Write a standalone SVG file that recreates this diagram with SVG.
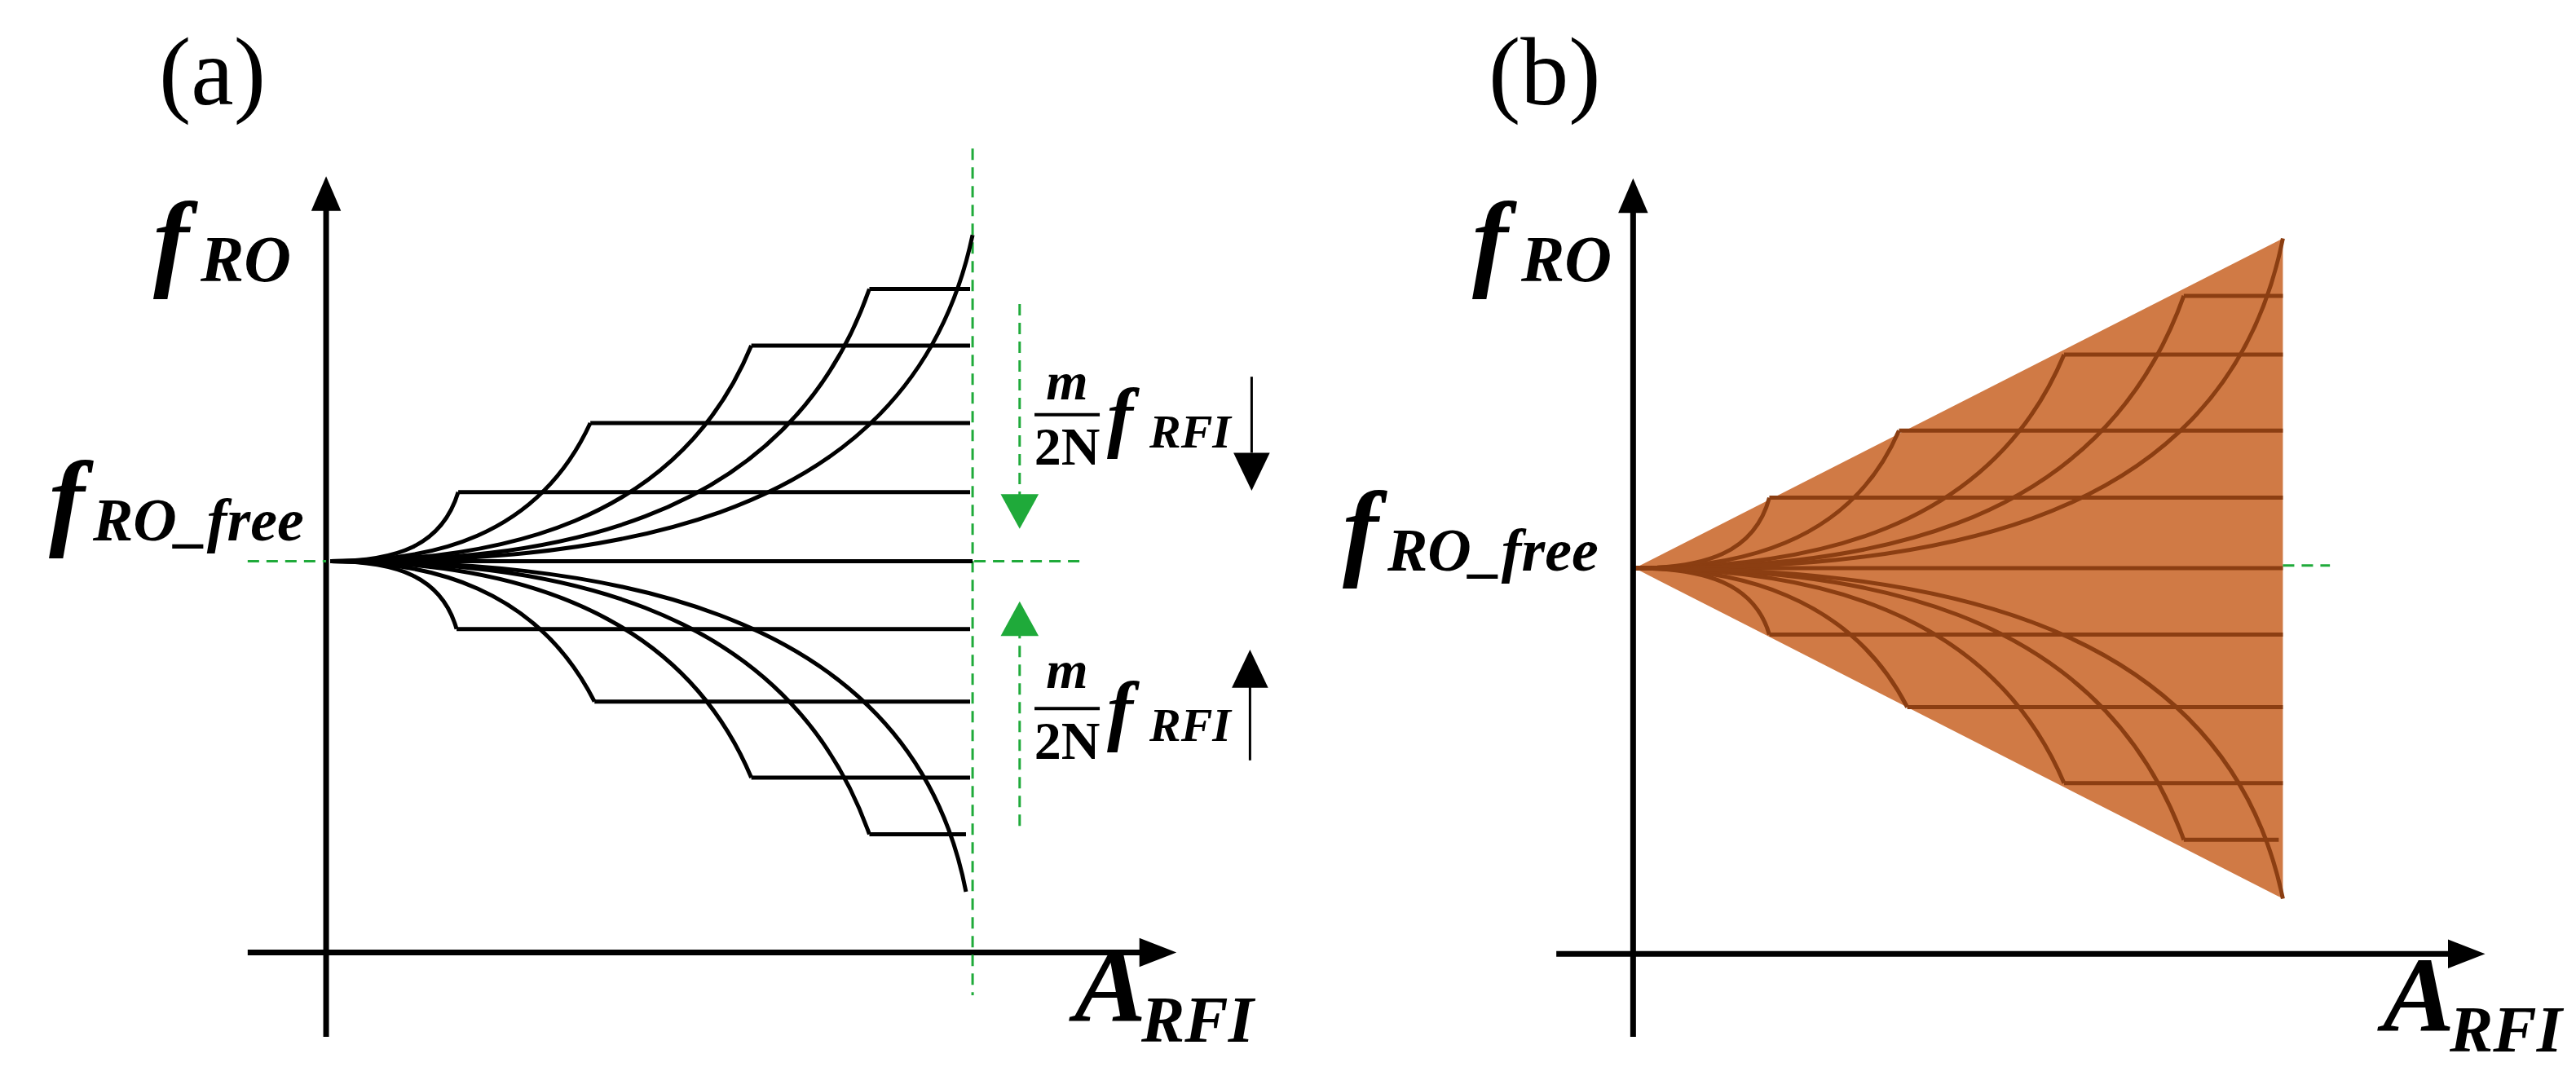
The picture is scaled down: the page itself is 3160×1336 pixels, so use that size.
<svg xmlns="http://www.w3.org/2000/svg" width="3160" height="1336" viewBox="0 0 3160 1336">
<style>
.ax{stroke:#000;stroke-width:7;fill:none}
.k{stroke:#000;stroke-width:5;fill:none}
.br{stroke:#8B3E12;stroke-width:5;fill:none}
.g{stroke:#1FAA3A;stroke-width:3;stroke-dasharray:14 9;fill:none}
line,path,polyline{vector-effect:non-scaling-stroke}
.big{font-family:"Liberation Serif",serif;font-weight:bold;font-style:italic;font-size:132px}
.sub{font-family:"Liberation Serif",serif;font-weight:bold;font-style:italic;font-size:80px}
.lab{font-family:"Liberation Serif",serif;font-size:118px}
.fr{font-family:"Liberation Serif",serif;font-weight:bold;font-style:italic;font-size:66px}
</style>
<rect width="3160" height="1336" fill="#fff"/>
<g id="panelA">
<g transform="scale(1.0128,0.848)">
<g id="axesA">
<line class="ax" x1="395" y1="1500" x2="395" y2="300"/><polygon points="377,305 413,305 395,255"/>
<line class="ax" x1="300" y1="1378" x2="1385" y2="1378"/><polygon points="1380,1357 1380,1399 1425,1378"/>
</g>
<g id="guidesA">
<line class="g" x1="1178" y1="215" x2="1178" y2="1440"/>
<line class="g" x1="300" y1="812" x2="395" y2="812"/>
<line class="g" x1="1180" y1="812" x2="1310" y2="812"/>
<line class="g" x1="1235" y1="440" x2="1235" y2="720"/><polygon points="1212,715 1258,715 1235,765" fill="#1FAA3A"/>
<line class="g" x1="1235" y1="1195" x2="1235" y2="915"/><polygon points="1212,920 1258,920 1235,870" fill="#1FAA3A"/>
</g>
<g id="curvesA">
<line class="k" x1="400" y1="812" x2="1178" y2="812"/>
<polyline class="k" points="555,712 1175,712"/><polyline class="k" points="715,612 1175,612"/><polyline class="k" points="910,500 1175,500"/><polyline class="k" points="1053,418 1175,418"/>
<polyline class="k" points="553,910 1175,910"/><polyline class="k" points="720,1015 1175,1015"/><polyline class="k" points="910,1125 1175,1125"/><polyline class="k" points="1053,1207 1170,1207"/>
<path class="k" d="M400,812 C480,812 535,790 555,712"/>
<path class="k" d="M400,812 C520,812 650,780 715,612"/>
<path class="k" d="M400,812 C600,812 820,760 910,500"/>
<path class="k" d="M400,812 C650,812 950,770 1053,418"/>
<path class="k" d="M400,812 C700,812 1100,780 1178,340"/>
<path class="k" d="M400,812 C480,812 535,834 553,910"/>
<path class="k" d="M400,812 C520,812 650,850 720,1015"/>
<path class="k" d="M400,812 C600,812 820,870 910,1125"/>
<path class="k" d="M400,812 C650,812 950,860 1053,1207"/>
<path class="k" d="M400,812 C700,812 1100,860 1170,1290"/>
</g>
<line x1="1516" y1="545" x2="1516" y2="655" stroke="#000" stroke-width="3"/><polygon points="1494,655 1538,655 1516,710"/>
<line x1="1514" y1="1100" x2="1514" y2="990" stroke="#000" stroke-width="3"/><polygon points="1492,995 1536,995 1514,940"/>
<line x1="1253" y1="600" x2="1332" y2="600" stroke="#000" stroke-width="4"/>
<line x1="1253" y1="1025" x2="1332" y2="1025" stroke="#000" stroke-width="4"/>
</g>
<g id="labelsA">
<text class="lab" x="195" y="128">(a)</text>
<text class="big" x="188" y="339">f</text><text class="sub" x="246" y="345">RO</text>
<text class="big" x="60" y="657">f</text><text class="sub" x="114" y="663" style="font-size:74px">RO_free</text>
<text class="big" x="1318" y="1253">A</text><text class="sub" x="1400" y="1278">RFI</text>
<text class="fr" x="1309" y="490" text-anchor="middle">m</text><text class="fr" x="1309" y="570" text-anchor="middle" style="font-style:normal">2N</text>
<text class="big" x="1358" y="543" style="font-size:96px">f</text><text class="sub" x="1410" y="549" style="font-size:58px">RFI</text>
<text class="fr" x="1309" y="844" text-anchor="middle">m</text><text class="fr" x="1309" y="931" text-anchor="middle" style="font-style:normal">2N</text>
<text class="big" x="1358" y="903" style="font-size:96px">f</text><text class="sub" x="1410" y="909" style="font-size:58px">RFI</text>
</g>
</g>
<g id="panelB">
<g transform="translate(1580,0) scale(1.0128,0.848)">
<g id="regionB">
<polygon points="420,822 1205,345 1205,1300" fill="#D07A45"/>
<line class="g" x1="1205" y1="818" x2="1262" y2="818"/>
<line class="br" x1="420" y1="822" x2="1205" y2="822"/>
<line class="br" x1="583" y1="720" x2="1205" y2="720"/><line class="br" x1="740" y1="623" x2="1205" y2="623"/><line class="br" x1="940" y1="513" x2="1205" y2="513"/><line class="br" x1="1085" y1="428" x2="1205" y2="428"/>
<line class="br" x1="583" y1="918" x2="1205" y2="918"/><line class="br" x1="750" y1="1023" x2="1205" y2="1023"/><line class="br" x1="940" y1="1133" x2="1205" y2="1133"/><line class="br" x1="1085" y1="1215" x2="1200" y2="1215"/>
<path class="br" d="M420,822 C505,822 565,800 583,720"/>
<path class="br" d="M420,822 C540,822 680,790 740,623"/>
<path class="br" d="M420,822 C630,822 850,770 940,513"/>
<path class="br" d="M420,822 C680,822 980,780 1085,428"/>
<path class="br" d="M420,822 C730,822 1130,790 1205,345"/>
<path class="br" d="M420,822 C505,822 565,844 583,918"/>
<path class="br" d="M420,822 C540,822 680,860 750,1023"/>
<path class="br" d="M420,822 C630,822 850,880 940,1133"/>
<path class="br" d="M420,822 C680,822 980,870 1085,1215"/>
<path class="br" d="M420,822 C730,822 1130,870 1205,1300"/>
</g>
<g id="axesB">
<line class="ax" x1="418" y1="1500" x2="418" y2="305"/><polygon points="400,308 436,308 418,258"/>
<line class="ax" x1="325" y1="1380" x2="1410" y2="1380"/><polygon points="1405,1359 1405,1401 1450,1380"/>
</g>
</g>
<g id="labelsB">
<text class="lab" x="1826" y="128">(b)</text>
<text class="big" x="1806" y="339">f</text><text class="sub" x="1866" y="345">RO</text>
<text class="big" x="1647" y="694">f</text><text class="sub" x="1702" y="700" style="font-size:74px">RO_free</text>
<text class="big" x="2923" y="1265">A</text><text class="sub" x="3005" y="1290">RFI</text>
</g>
</g>
</svg>
